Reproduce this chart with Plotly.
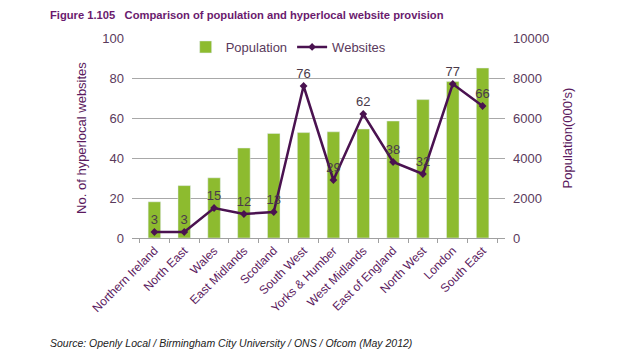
import plotly.graph_objects as go

regions = ["Northern Ireland", "North East", "Wales", "East Midlands", "Scotland",
           "South West", "Yorks & Humber", "West Midlands", "East of England",
           "North West", "London", "South East"]
population = [1810, 2620, 3010, 4500, 5230, 5270, 5310, 5450, 5850, 6920, 7820, 8500]
websites = [3, 3, 15, 12, 13, 76, 29, 62, 38, 32, 77, 66]

purple = "#5b1a5e"
label_col = "#5a3a5c"
font = "Arial, Liberation Sans, sans-serif"

# the page body adds an 8px offset; compensate
OFF = 8
W, H = 640, 360
l, r, t, b = 132 - OFF, 135 + OFF, 38 - OFF, 122 + OFF
pw, ph = W - l - r, H - t - b


def px_to_paper(x, y):
    return (x - OFF - l) / pw, 1 - (y - OFF - t) / ph


fig = go.Figure()
fig.add_trace(go.Bar(
    x=regions, y=population, name="Population", yaxis="y2",
    marker=dict(color="#8dbb2f"), width=0.42,
))
fig.add_trace(go.Scatter(
    x=regions, y=websites, name="Websites", yaxis="y",
    mode="lines+markers+text", text=[str(v) for v in websites],
    textposition="top center",
    textfont=dict(size=13, color="#4a3a4a", family=font),
    line=dict(color="#4a1250", width=2.5),
    marker=dict(symbol="diamond", size=6, color="#4a1250"),
))

tx, ty = px_to_paper(48, 15)
sx, sy = px_to_paper(48, 343)

fig.update_layout(
    width=W, height=H,
    margin=dict(l=l, r=r, t=t, b=b, autoexpand=False),
    paper_bgcolor="white", plot_bgcolor="white",
    font=dict(family=font, color=label_col, size=12),
    showlegend=True,
    legend=dict(orientation="h", x=0.42, xanchor="center", y=1.03, yanchor="top",
                font=dict(size=13, color=label_col), bgcolor="rgba(0,0,0,0)",
                traceorder="normal"),
    xaxis=dict(tickangle=-45, tickfont=dict(size=12, color=purple),
               showline=True, linecolor="#a0a0a0", ticks="outside",
               tickson="boundaries",
               tickcolor="#a0a0a0", ticklen=4, showgrid=False, automargin=False),
    yaxis=dict(range=[0, 100], dtick=20, side="left", showgrid=True,
               gridcolor="#a8a8a8", gridwidth=1, zeroline=False,
               tickfont=dict(size=13, color=label_col), automargin=False,
               ticklabelstandoff=7,
               title=dict(text="No. of hyperlocal websites",
                          font=dict(size=13, color=purple), standoff=12),
               overlaying="y2"),
    yaxis2=dict(range=[0, 10000], dtick=2000, side="right", showgrid=False,
                zeroline=False, tickformat="d", automargin=False,
                ticklabelstandoff=7,
                tickfont=dict(size=13, color=label_col),
                title=dict(text="Population(000's)",
                           font=dict(size=13, color=purple), standoff=14)),
    annotations=[
        dict(text="<b>Figure 1.105   Comparison of population and hyperlocal website provision</b>",
             x=tx, y=ty, xref="paper", yref="paper", showarrow=False,
             xanchor="left", yanchor="middle",
             font=dict(size=11.2, color="#6a1a6e", family=font)),
        dict(text="<i>Source: Openly Local / Birmingham City University / ONS / Ofcom (May 2012)</i>",
             x=sx, y=sy, xref="paper", yref="paper", showarrow=False,
             xanchor="left", yanchor="middle",
             font=dict(size=10.5, color="#222222", family=font)),
    ],
)

fig.write_html("out.html")
